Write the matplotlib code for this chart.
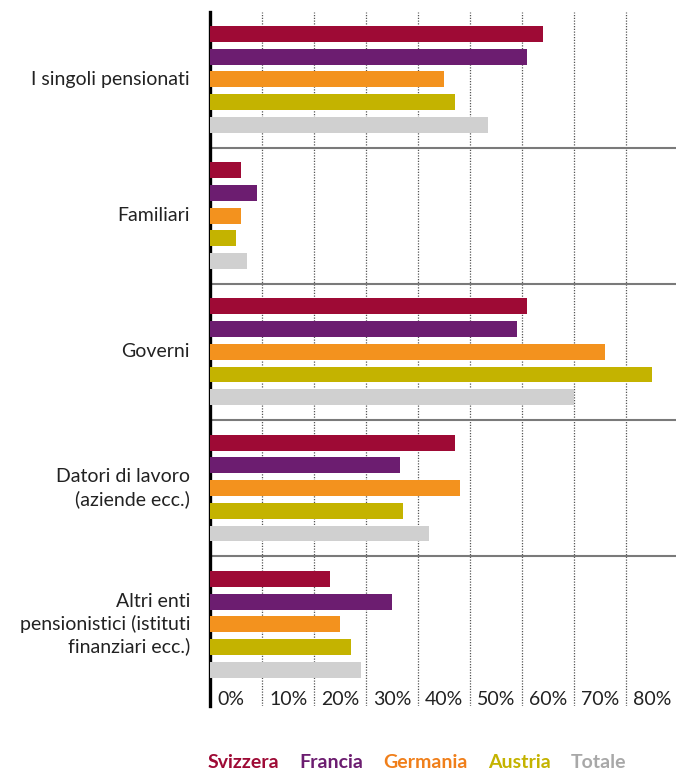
import matplotlib
matplotlib.use("Agg")
import matplotlib.pyplot as plt
import numpy as np

plt.rcParams['font.family'] = ['Lato', 'DejaVu Sans']

# Data (percent of respondents)
categories = [
    "I singoli pensionati",
    "Familiari",
    "Governi",
    "Datori di lavoro\n(aziende ecc.)",
    "Altri enti\npensionistici (istituti\nfinanziari ecc.)",
]
countries = ["Svizzera", "Francia", "Germania", "Austria", "Totale"]
svizzera = [64, 6, 61, 47, 23]
francia = [61, 9, 59, 36.5, 35]
germania = [45, 6, 76, 48, 25]
austria = [47, 5, 85, 37, 27]
totale = [53.5, 7, 70, 42, 29]
ticks = [0, 10, 20, 30, 40, 50, 60, 70, 80]

bar_colors = ["#9E0A35", "#6C1D70", "#F3921E", "#C4B300", "#D0D0D0"]
text_colors = ["#9E0A35", "#6C1D70", "#F07F1A", "#C4B300", "#A8A8A8"]

series = [svizzera, francia, germania, austria, totale]

W, H = 676, 771
fig = plt.figure(figsize=(W / 100, H / 100), dpi=100)
ax = fig.add_axes([210.3 / W, 1 - 706 / H, 1 - 210.3 / W, (706 - 12) / H])

group_step = 6
for j, (vals, col) in enumerate(zip(series, bar_colors)):
    y = np.arange(len(categories)) * group_step + j
    ax.barh(y, vals, height=0.7, color=col, zorder=3)

ax.set_xlim(0, 89.56)
ax.set_ylim(29.6, -0.97)

# dotted vertical gridlines
for t in ticks[1:]:
    ax.axvline(t, color="#555555", lw=0.9, ls=(0, (1, 1.2)), zorder=1)

# separators between groups
for i in range(len(categories) - 1):
    ax.axhline(i * group_step + 5, color="#7a7a7a", lw=1.5, zorder=2)

# category labels
for i, cat in enumerate(categories):
    ax.text(-3.9, i * group_step + 2, cat, ha="right", va="center",
            fontsize=14, color="#222222", linespacing=1.32, clip_on=False)

# percent labels sitting inside the bottom strip
for t in ticks:
    ax.text(t + 1.3, 29.3, f"{t}%", ha="left", va="center",
            fontsize=14, color="#222222")

for s in ["top", "right", "bottom"]:
    ax.spines[s].set_visible(False)
ax.spines["left"].set_linewidth(2.4)
ax.spines["left"].set_color("black")
ax.set_xticks([])
ax.set_yticks([])

# colored text legend, laid out left to right
fig.canvas.draw()
renderer = fig.canvas.get_renderer()
x = 208
for name, col in zip(countries, text_colors):
    t = fig.text(x / W, 1 - 763 / H, name, ha="left", va="center",
                 fontsize=14, fontweight="bold", color=col)
    x += t.get_window_extent(renderer).width + 20

fig.savefig("out.png", dpi=100)
